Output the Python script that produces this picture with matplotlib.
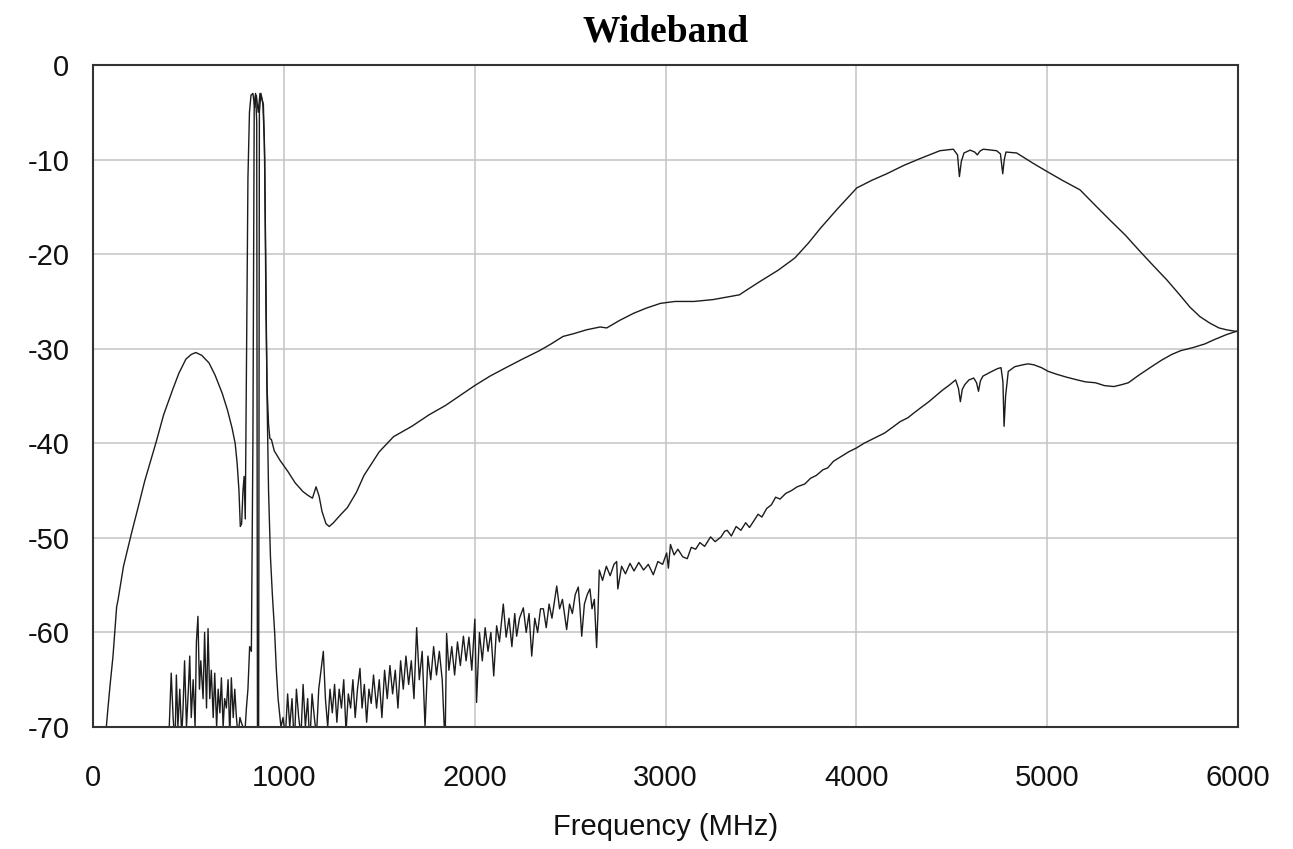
import matplotlib.pyplot as plt
import numpy as np

# upper (smooth) trace
freq_upper = [
    60, 70, 79, 90, 105, 124, 131, 160, 202, 240, 271, 300, 332, 370, 418, 450,
    487, 515, 539, 570, 608, 640, 677, 705, 729, 745, 755, 765, 772, 779, 786,
    792, 798, 805, 812, 820, 828, 838, 848, 856, 866, 875, 884, 893, 900, 906,
    912, 920, 927, 935, 950, 980, 1022, 1060, 1100, 1126, 1150, 1169, 1185,
    1200, 1221, 1238, 1260, 1300, 1333, 1380, 1420, 1500, 1575, 1671, 1760,
    1847, 1920, 2000, 2080, 2164, 2250, 2340, 2400, 2463, 2520, 2586, 2657,
    2692, 2760, 2833, 2900, 2974, 3050, 3150, 3250, 3387, 3440, 3502, 3590,
    3678, 3750, 3810, 3897, 4002, 4080, 4159, 4250, 4333, 4438, 4508, 4530,
    4540, 4550, 4564, 4596, 4620, 4634, 4648, 4665, 4735, 4755, 4767, 4775,
    4784, 4840, 4927, 4994, 5080, 5172, 5250, 5329, 5410, 5486, 5560, 5626,
    5690, 5748, 5800, 5853, 5900, 5940, 6000,
]
db_upper = [
    -76, -70, -67.9, -65.5, -62.5, -57.3, -56.6, -53, -49.5, -46.5, -44, -42,
    -39.8, -37, -34.3, -32.6, -31.1, -30.6, -30.4, -30.7, -31.5, -32.8, -34.7,
    -36.5, -38.4, -40, -42, -45, -48.8, -48.5, -45, -43.5, -48, -30, -12, -5,
    -3.2, -3.0, -4.5, -3.2, -5, -3.0, -3.5, -4.2, -10, -25, -34, -38, -39.5,
    -39.6, -40.8, -41.8, -43, -44.2, -45.1, -45.5, -45.8, -44.6, -45.6, -47.2,
    -48.5, -48.8, -48.4, -47.5, -46.8, -45.2, -43.4, -40.9, -39.3, -38.2, -37.0,
    -36.0, -35, -33.9, -32.9, -32.0, -31.1, -30.2, -29.5, -28.7, -28.4, -28.0,
    -27.7, -27.8, -27.0, -26.25, -25.7, -25.2, -25.0, -25.0, -24.8, -24.3,
    -23.6, -22.8, -21.7, -20.4, -18.8, -17.3, -15.3, -13.0, -12.2, -11.5,
    -10.6, -9.9, -9.06, -8.9, -9.5, -11.8, -10.2, -9.3, -9.0, -9.2, -9.5,
    -9.1, -8.9, -9.06, -9.4, -11.5, -10.0, -9.2, -9.3, -10.4, -11.2, -12.2,
    -13.2, -14.8, -16.4, -18.0, -19.7, -21.3, -22.7, -24.2, -25.6, -26.6,
    -27.3, -27.8, -28.0, -28.2,
]

# lower (noisy) trace, below the passband
freq_low_a = [
    340, 352, 364, 376, 388, 400, 410, 420, 430, 437, 445, 455, 465, 472, 480,
    490, 500, 507, 515, 525, 535, 542, 550, 558, 565, 577, 585, 595, 603, 612,
    620, 630, 638, 648, 656, 665, 673, 682, 690, 699, 708, 717, 725, 735, 743,
    751, 760, 770, 777, 786, 795, 804, 812,
]
db_low_a = [
    -73, -72, -71, -70.5, -73, -69.8, -64.3, -69, -72, -64.5, -70, -66, -71,
    -68, -63, -70, -66, -62.5, -69, -65, -70, -61, -58.3, -66, -63, -67, -60,
    -68, -59.6, -67, -64, -69, -64.3, -70, -66, -68.5, -64.8, -70, -67, -68,
    -65, -71, -64.8, -69, -66, -68.8, -71, -69, -69.5, -70, -71, -68, -66,
]

# lower trace through the passband
freq_low_pass = [
    821, 830, 838, 845, 852, 858, 862, 868, 872, 880, 890, 898, 905, 912, 920,
    930, 940, 952, 961, 970,
]
db_low_pass = [
    -61.5, -62, -40, -4, -3, -6, -72, -72, -5, -3, -4, -8, -20, -35, -45, -52,
    -56, -60, -64, -67,
]

# lower trace, noisy stretch above the passband
freq_low_b = [
    985, 996, 1008, 1020, 1031, 1043, 1055, 1066, 1078, 1090, 1101, 1113, 1125,
    1136, 1148, 1160, 1171, 1183, 1195, 1207, 1218, 1230, 1242, 1254, 1266,
    1278, 1290, 1302, 1314, 1326, 1338, 1350, 1362, 1374, 1386, 1399, 1410,
    1422, 1434, 1446, 1458, 1470, 1486, 1500, 1514, 1528, 1542, 1556, 1570,
    1584, 1598, 1612, 1626, 1640, 1654, 1668, 1682, 1696, 1710, 1725, 1740,
    1755, 1770, 1785, 1800, 1815, 1830, 1845, 1853, 1865, 1880, 1895, 1910,
    1925, 1941, 1955, 1970, 1985, 2001, 2010, 2025, 2040, 2055, 2070, 2085,
    2100, 2115, 2130, 2150, 2165, 2180, 2195, 2210, 2220, 2235, 2255, 2270,
    2285, 2299, 2315, 2330, 2345, 2360, 2375, 2390, 2405, 2430, 2445, 2460,
    2482, 2497, 2512, 2527, 2543, 2552, 2561, 2575, 2590, 2604, 2615, 2627,
    2639, 2646, 2653,
]
db_low_b = [
    -70, -69, -71, -66.5, -70, -67, -72, -66, -69, -71, -65.5, -70, -67, -72,
    -66.5, -69, -71, -66, -64, -62, -67, -70, -66, -68.5, -65.5, -69.5, -66,
    -68, -65, -70.5, -66.5, -68, -65, -69, -66, -63.8, -68, -65.5, -69.5, -66,
    -67.5, -64.5, -68, -65, -69, -64, -67, -63.5, -66.5, -64, -68, -63, -66,
    -62.5, -65.5, -63, -67, -59.5, -65, -62, -70, -62.5, -65, -61.5, -64.5,
    -62, -65, -72, -60.1, -64, -61.5, -64.5, -61, -63.5, -60.4, -63, -60.5,
    -64, -58.6, -67.4, -60, -63, -59.5, -62, -60, -64.6, -59.3, -61, -57,
    -60.5, -58.5, -61.5, -58, -60.4, -58.5, -57.4, -60, -58, -62.5, -58.5, -60,
    -57.5, -57.5, -59.5, -57, -58.5, -55.1, -57.5, -56.5, -59.7, -57, -58, -56,
    -55.2, -57.5, -60.4, -57, -56, -55.4, -57.5, -56.5, -61.6, -58, -53.4,
]

# lower trace, quieter upper half
freq_low_c = [
    2670, 2690, 2710, 2730, 2744, 2750, 2770, 2790, 2814, 2835, 2860, 2885,
    2910, 2936, 2960, 2985, 3006, 3015, 3026, 3045, 3065, 3090, 3114, 3135,
    3158, 3180, 3205, 3236, 3260, 3291, 3310, 3323, 3345, 3370, 3395, 3420,
    3440, 3463, 3485, 3505, 3530, 3555, 3577, 3600, 3630, 3660, 3690, 3730,
    3760, 3790, 3825, 3850, 3880, 3920, 3960, 4000, 4040, 4080, 4120, 4149,
    4190, 4230, 4270, 4301, 4340, 4380, 4415, 4450, 4490, 4520, 4535, 4545,
    4555, 4568, 4590, 4615, 4630, 4640, 4650, 4663, 4700, 4740, 4758, 4768,
    4774, 4782, 4796, 4830, 4872, 4900, 4930, 4970, 5006, 5050, 5100, 5158,
    5200, 5253, 5300, 5349, 5390, 5425, 5480, 5539, 5600, 5653, 5700, 5760,
    5825, 5880, 5940, 6000,
]
db_low_c = [
    -54.5, -53, -54, -52.8, -52.5, -55.4, -53, -53.8, -52.7, -53.5, -52.6,
    -53.4, -52.8, -53.9, -52.5, -52.8, -51.6, -53.2, -50.7, -51.8, -51.2, -52,
    -52.2, -51, -51.2, -50.5, -50.9, -49.9, -50.4, -49.9, -49.3, -49.2, -49.8,
    -48.8, -49.2, -48.4, -48.9, -48.2, -47.5, -47.8, -46.9, -46.5, -45.7,
    -45.9, -45.3, -45.0, -44.6, -44.3, -43.7, -43.4, -42.8, -42.6, -41.9,
    -41.4, -40.9, -40.5, -40.0, -39.6, -39.2, -38.9, -38.3, -37.7, -37.3,
    -36.8, -36.2, -35.6, -35.0, -34.4, -33.8, -33.3, -34.2, -35.6, -34.3,
    -33.8, -33.3, -33.1, -33.6, -34.5, -33.4, -32.9, -32.5, -32.1, -32.0,
    -33.5, -38.2, -35, -32.4, -31.9, -31.7, -31.6, -31.7, -32.0, -32.4, -32.7,
    -33.0, -33.3, -33.5, -33.6, -33.9, -34.0, -33.8, -33.6, -32.8, -32.0,
    -31.2, -30.6, -30.2, -29.9, -29.5, -29.0, -28.5, -28.1,
]

freq_lower = freq_low_a + freq_low_pass + freq_low_b + freq_low_c
db_lower = db_low_a + db_low_pass + db_low_b + db_low_c

x_ticks = [0, 1000, 2000, 3000, 4000, 5000, 6000]
y_ticks = [0, -10, -20, -30, -40, -50, -60, -70]

plt.rcParams["font.family"] = ["Liberation Sans", "DejaVu Sans"]
plt.rcParams["axes.unicode_minus"] = False

fig = plt.figure(figsize=(12.93, 8.49), dpi=100)
ax = fig.add_axes([0.0719, 0.1437, 0.8856, 0.7797])

ax.plot(freq_upper, db_upper, color="#1c1c1c", lw=1.0)
ax.plot(freq_lower, db_lower, color="#1c1c1c", lw=1.0)

ax.set_xlim(0, 6000)
ax.set_ylim(-70, 0)
ax.set_xticks(x_ticks)
ax.set_yticks(y_ticks)
ax.grid(True, color="#c4c4c4", lw=1.1)
ax.set_axisbelow(True)
ax.tick_params(length=0, labelsize=21, colors="#111111")
ax.tick_params(axis="x", pad=27)
ax.tick_params(axis="y", pad=17)
for spine in ax.spines.values():
    spine.set_color("#333333")
    spine.set_linewidth(1.5)

ax.set_xlabel("Frequency (MHz)", fontsize=21, labelpad=15, color="#111111")
ax.set_title("Wideband", fontsize=27, fontweight="bold",
             family="Liberation Serif", pad=17)

fig.savefig("out.png", dpi=100)
